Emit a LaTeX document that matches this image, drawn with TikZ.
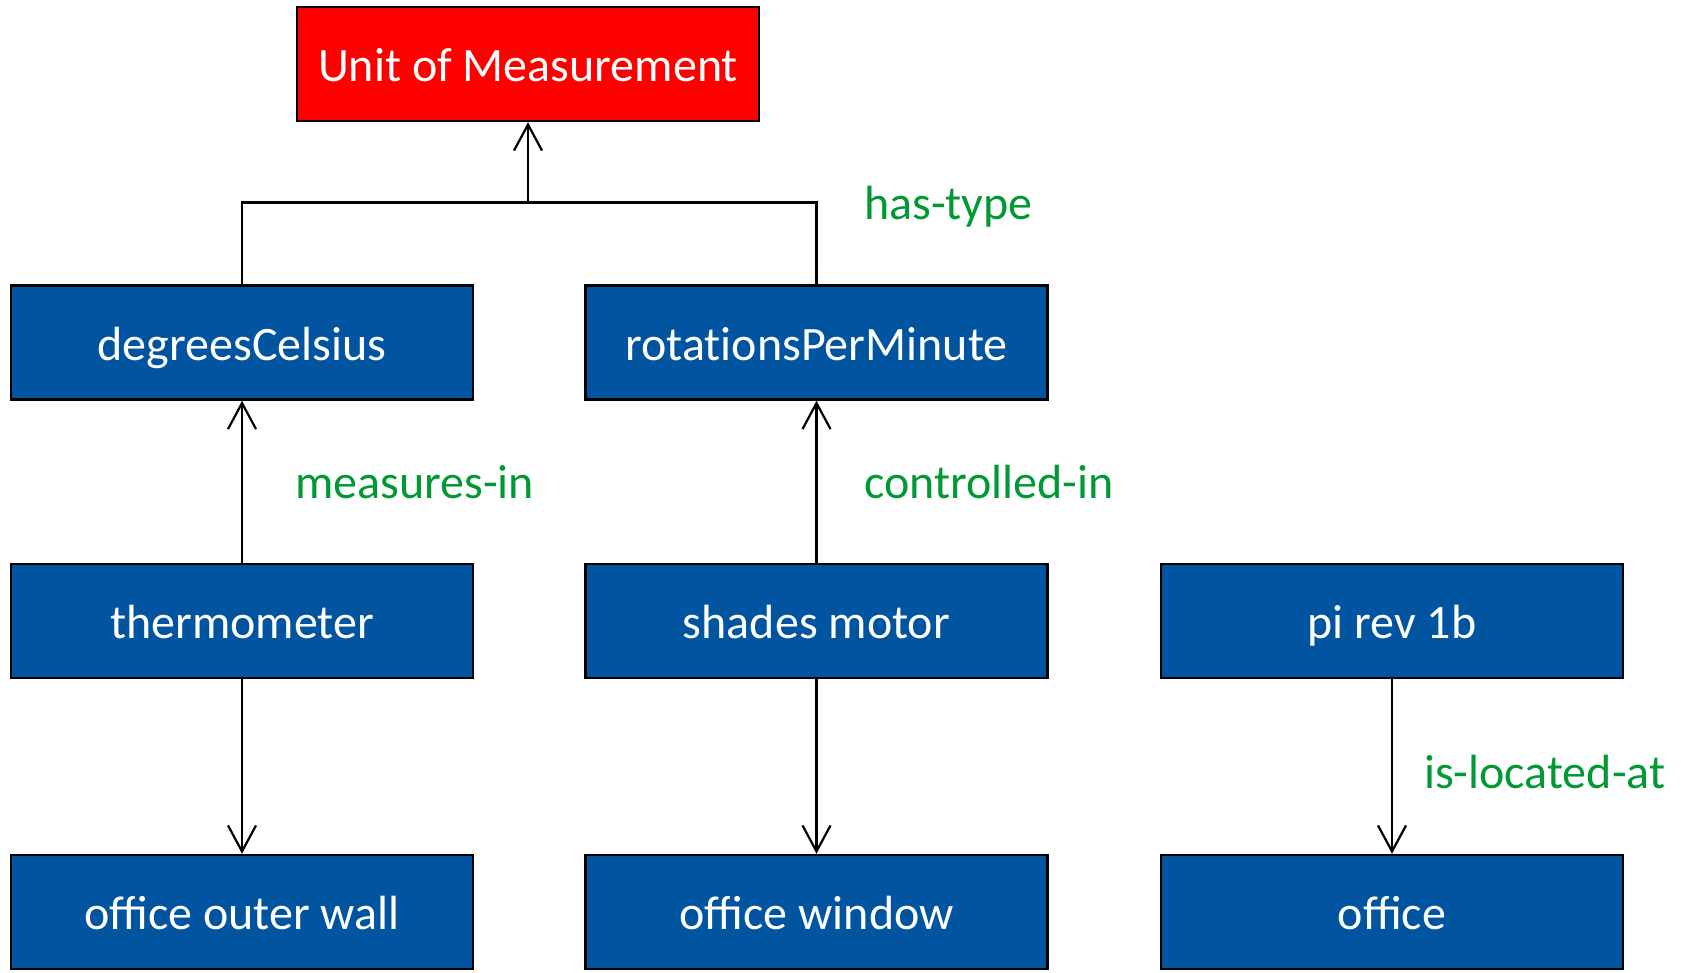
\documentclass[tikz,border=0pt]{standalone}
\usepackage{fontspec}
\setmainfont{Carlito}
\usetikzlibrary{arrows.meta}
\definecolor{boxblue}{RGB}{0,84,160}
\definecolor{relgreen}{RGB}{0,153,51}
\begin{document}
\begin{tikzpicture}[x=1pt,y=-1pt,
  txt/.style={font=\fontsize{48}{56}\selectfont,text height=42pt,text depth=7pt},
  entity/.style={txt,draw=black,line width=2.5pt,fill=boxblue,text=white,
    minimum width=462pt,minimum height=114pt,inner sep=0pt},
  unitbox/.style={entity,fill=red},
  rel/.style={txt,text=relgreen,anchor=west,inner sep=0pt},
  link/.style={line width=2.2pt,-{Straight Barb[length=26pt,width=28pt,line width=2.2pt]}}]
\useasboundingbox (0,0) rectangle (1681,972);
\node[unitbox] (unit) at (528,64) {Unit of Measurement};
\node[entity] (celsius) at (242,342.5) {degreesCelsius};
\node[entity] (rpm) at (816.5,342.5) {rotat\kern0pt ionsPerMinute};
\node[entity] (thermo) at (242,621) {thermometer};
\node[entity] (motor) at (816.5,621) {shades motor};
\node[entity] (pi) at (1392,621) {pi rev 1b};
\node[entity] (wall) at (242,912) {office outer wall};
\node[entity] (window) at (816.5,912) {office window};
\node[entity] (office) at (1392,912) {office};
\coordinate (join) at (528,202.5);
\draw[line width=2.2pt] (celsius.north) |- (join) -| (rpm.north);
\draw[link] (join) -- (unit.south);
\draw[link] (thermo.north) -- (celsius.south);
\draw[link] (motor.north) -- (rpm.south);
\draw[link] (thermo.south) -- (wall.north);
\draw[link] (motor.south) -- (window.north);
\draw[link] (pi.south) -- (office.north);
\node[rel] (hastype) at (864,201.5) {has-type};
\node[rel] (measures) at (295,480.5) {measures-in};
\node[rel] (controlled) at (864,480.5) {controlled-in};
\node[rel] (located) at (1424,771) {is-located-at};
\end{tikzpicture}
\end{document}
